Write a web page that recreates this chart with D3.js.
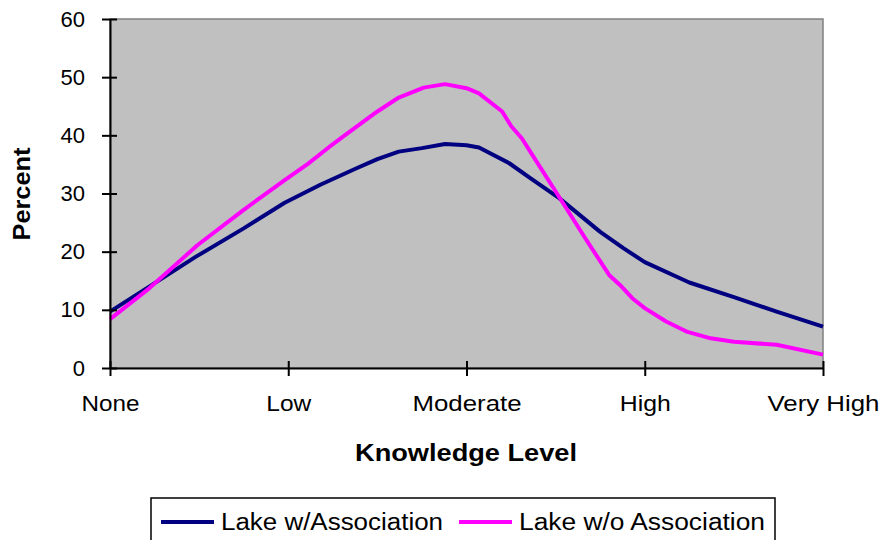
<!DOCTYPE html>
<html>
<head>
<meta charset="utf-8">
<script src="https://cdn.jsdelivr.net/npm/d3@7"></script>
<style>
  body { margin: 0; background: #fff; }
  text { font-family: "Liberation Sans", Arial, sans-serif; }
</style>
</head>
<body>
<div id="chart"></div>
<script>
// category labels on the x axis (positions 0..4)
const levels = ["None", "Low", "Moderate", "High", "Very High"];
const levelWidths = [58, 45, 109, 51, 112]; // label widths as seen in the original
const yTicks = [0, 10, 20, 30, 40, 50, 60];

// Lake w/Association
const assocX   = [0, 0.22, 0.48, 0.75, 0.98, 1.18, 1.38, 1.5, 1.62, 1.75, 1.88, 2.0, 2.07, 2.24, 2.36, 2.52, 2.75, 2.88, 3.0, 3.25, 3.5, 3.74, 4.0];
const assocVal = [9.7, 14.0, 19.1, 24.0, 28.4, 31.5, 34.3, 35.9, 37.2, 37.8, 38.5, 38.3, 37.9, 35.2, 32.6, 29.2, 23.4, 20.6, 18.2, 14.7, 12.2, 9.7, 7.1];

// Lake w/o Association
const noAssocX   = [0, 0.22, 0.49, 0.75, 0.98, 1.11, 1.23, 1.37, 1.5, 1.62, 1.76, 1.88, 2.0, 2.07, 2.2, 2.25, 2.31, 2.37, 2.52, 2.66, 2.8, 2.87, 2.93, 3.0, 3.12, 3.24, 3.37, 3.5, 3.74, 4.0];
const noAssocVal = [8.4, 13.7, 21.1, 27.2, 32.3, 35.1, 38.0, 41.2, 44.1, 46.5, 48.2, 48.8, 48.1, 47.2, 44.1, 41.6, 39.5, 36.6, 29.4, 22.6, 16.0, 14.0, 12.0, 10.3, 8.0, 6.2, 5.1, 4.5, 4.0, 2.3];

const series = [
  { name: "Lake w/Association",   color: "#000080", x: assocX,   v: assocVal,   lx: 161, tw: 222 },
  { name: "Lake w/o Association", color: "#FF00FF", x: noAssocX, v: noAssocVal, lx: 459, tw: 246 }
];

const W = 896, H = 540;
const m = { l: 110, r: 823, t: 19, b: 368 };

const svg = d3.select("#chart").append("svg")
    .attr("width", W).attr("height", H);

const x = d3.scaleLinear().domain([0, 4]).range([m.l, m.r]);
const y = d3.scaleLinear().domain([0, 60]).range([m.b, m.t]);

// plot area
svg.append("rect")
    .attr("x", m.l).attr("y", m.t)
    .attr("width", m.r - m.l).attr("height", m.b - m.t)
    .attr("fill", "#C0C0C0")
    .attr("stroke", "#808080").attr("stroke-width", 1.5);

// lines
const line = d3.line()
    .x(d => x(d[0]))
    .y(d => y(d[1]));

series.forEach(s => {
  svg.append("path")
      .datum(s.x.map((xx, i) => [xx, s.v[i]]))
      .attr("fill", "none")
      .attr("stroke", s.color)
      .attr("stroke-width", 4)
      .attr("stroke-linejoin", "round")
      .attr("d", line);
});

// y axis
const yAxis = svg.append("g")
    .attr("transform", "translate(" + m.l + ",0)")
    .call(d3.axisLeft(y).tickValues(yTicks).tickSize(8).tickPadding(17).tickSizeOuter(0));
yAxis.select(".domain").attr("stroke", "#000").attr("stroke-width", 2);
yAxis.selectAll(".tick line").attr("stroke", "#000").attr("stroke-width", 2).attr("x2", 7).attr("x1", -8);
yAxis.selectAll(".tick text")
    .attr("font-size", "22px").attr("fill", "#000")
    .attr("font-family", "Liberation Sans, Arial, sans-serif");

// x axis
const xAxis = svg.append("g")
    .attr("transform", "translate(0," + m.b + ")")
    .call(d3.axisBottom(x).tickValues([0, 1, 2, 3, 4])
        .tickFormat(i => levels[i]).tickSize(8).tickPadding(19).tickSizeOuter(0));
xAxis.select(".domain").attr("stroke", "#000").attr("stroke-width", 2);
xAxis.selectAll(".tick line").attr("stroke", "#000").attr("stroke-width", 2).attr("y1", -7).attr("y2", 8);
xAxis.selectAll(".tick text")
    .attr("font-size", "22px").attr("fill", "#000")
    .attr("font-family", "Liberation Sans, Arial, sans-serif")
    .attr("textLength", (d, i) => levelWidths[i])
    .attr("lengthAdjust", "spacingAndGlyphs");

// axis titles
svg.append("text")
    .attr("transform", "translate(30,194) rotate(-90)")
    .attr("text-anchor", "middle")
    .attr("font-size", "24px").attr("font-weight", "bold")
    .attr("textLength", 93).attr("lengthAdjust", "spacingAndGlyphs")
    .text("Percent");

svg.append("text")
    .attr("x", 466).attr("y", 461)
    .attr("text-anchor", "middle")
    .attr("font-size", "24px").attr("font-weight", "bold")
    .attr("textLength", 222).attr("lengthAdjust", "spacingAndGlyphs")
    .text("Knowledge Level");

// legend
const lg = svg.append("g");
lg.append("rect")
    .attr("x", 151).attr("y", 498)
    .attr("width", 624).attr("height", 50)
    .attr("fill", "#fff").attr("stroke", "#000").attr("stroke-width", 1.5);

series.forEach(s => {
  lg.append("line")
      .attr("x1", s.lx).attr("x2", s.lx + 53)
      .attr("y1", 522).attr("y2", 522)
      .attr("stroke", s.color).attr("stroke-width", 4);
  lg.append("text")
      .attr("x", s.lx + 60).attr("y", 530)
      .attr("font-size", "23px")
      .attr("textLength", s.tw).attr("lengthAdjust", "spacingAndGlyphs")
      .text(s.name);
});
</script>
</body>
</html>
